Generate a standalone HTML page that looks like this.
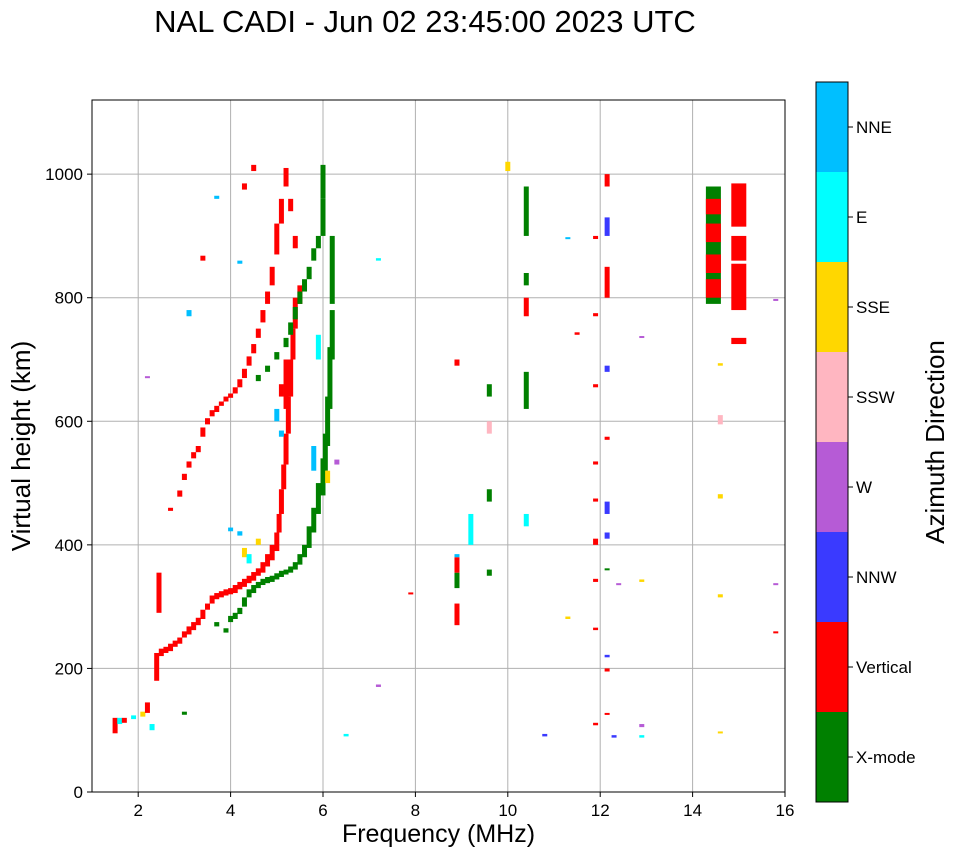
<!DOCTYPE html>
<html><head><meta charset="utf-8"><style>
body{margin:0;background:#fff;font-family:"Liberation Sans",sans-serif}
svg text{font-family:"Liberation Sans",sans-serif}
</style></head><body>
<svg id="chart" width="958" height="857" xmlns="http://www.w3.org/2000/svg">
<text x="425" y="32" font-size="31" text-anchor="middle">NAL CADI - Jun 02 23:45:00 2023 UTC</text>
<g id="grid"></g><g id="marks"></g><g id="axes"></g><g id="cbar"></g>
</svg>
<script>
const xTicks=[2,4,6,8,10,12,14,16];
const yTicks=[0,200,400,600,800,1000];
const dirNames=["X-mode","Vertical","NNW","W","SSW","SSE","E","NNE"];
const dirColors=["#008000","#ff0000","#3a3aff","#b65bd6","#ffb6c1","#ffd700","#00ffff","#00bfff"];
// [freq MHz, low km, high km, direction index]
const lowTrace=[[1.5,95,120,1],[1.6,110,120,6],[1.7,112,120,1],[1.9,118,124,6],[2.1,122,130,5],[2.2,128,145,1],[2.3,100,110,6],[2.4,180,225,1],[2.45,290,355,1],[2.5,220,232,1],[2.6,225,235,1],[2.7,228,240,1],[2.8,235,245,1],[2.9,240,250,1],[3.0,250,260,1],[3.1,255,268,1],[3.2,262,275,1],[3.3,270,282,1],[3.4,280,295,1],[3.5,295,305,1],[3.6,305,318,1],[3.7,312,322,1],[3.8,315,325,1],[3.9,318,328,1],[4.0,320,330,1],[4.1,322,335,1],[4.2,328,340,1],[4.3,332,345,1],[4.4,338,350,1],[4.5,342,356,1],[4.6,350,362,1],[4.7,355,372,1],[4.8,365,385,1],[4.9,375,400,1],[5.0,390,420,1],[5.05,420,450,1],[5.1,450,490,1],[5.15,490,530,1],[5.2,530,580,1],[5.25,580,640,1],[5.3,640,700,1],[5.35,700,750,1],[5.4,750,800,1],[5.5,790,820,1],[4.2,415,422,7],[4.0,422,428,7],[4.3,380,395,5],[4.4,370,385,6],[4.6,400,410,5]];
const xTrace=[[3.7,268,275,0],[3.9,258,265,0],[4.0,275,285,0],[4.1,280,290,0],[4.2,288,298,0],[4.3,300,315,0],[4.4,315,328,0],[4.5,322,335,0],[4.6,330,340,0],[4.7,335,345,0],[4.8,338,348,0],[4.9,340,350,0],[5.0,344,354,0],[5.1,348,358,0],[5.2,352,360,0],[5.3,355,365,0],[5.4,360,372,0],[5.5,368,385,0],[5.6,380,400,0],[5.7,395,430,0],[5.8,420,460,0],[5.9,450,500,0],[6.0,480,540,0],[6.05,520,580,0],[6.1,560,640,0],[6.15,620,720,0],[6.2,700,780,0],[6.2,790,900,0],[6.0,900,960,0],[6.0,960,1015,0],[5.9,700,740,6],[5.8,520,560,7],[6.3,530,538,3],[6.1,500,520,5]];
const hop2Red=[[2.7,455,460,1],[2.9,478,488,1],[3.0,505,515,1],[3.1,525,535,1],[3.2,540,550,1],[3.3,550,560,1],[3.4,575,590,1],[3.5,595,605,1],[3.6,608,618,1],[3.7,615,625,1],[3.8,625,632,1],[3.9,632,640,1],[4.0,638,645,1],[4.1,645,655,1],[4.2,655,668,1],[4.3,670,685,1],[4.4,690,705,1],[4.5,710,725,1],[4.6,735,750,1],[4.7,760,780,1],[4.8,790,810,1],[4.9,820,850,1],[5.0,870,920,1],[5.1,920,960,1],[5.2,980,1010,1],[4.5,1005,1015,1],[4.3,975,985,1],[3.4,860,868,1],[5.3,940,960,1],[5.4,880,900,1],[5.1,640,660,1],[5.2,620,700,1]];
const hop2Green=[[4.6,665,675,0],[4.8,680,690,0],[5.0,700,712,0],[5.2,720,735,0],[5.3,740,760,0],[5.4,765,785,0],[5.5,790,810,0],[5.6,810,830,0],[5.7,830,850,0],[5.8,860,880,0],[5.9,880,900,0],[5.0,600,620,7],[5.1,575,585,7],[3.7,960,965,7],[4.2,855,860,7]];
const farMarks=[[10.4,900,980,0],[10.4,820,840,0],[10.4,770,800,1],[10.4,620,680,0],[10.4,430,450,6],[9.6,640,660,0],[9.6,580,600,4],[9.6,350,360,0],[9.6,470,490,0],[8.9,330,355,0],[8.9,355,380,1],[8.9,380,385,7],[8.9,690,700,1],[8.9,270,305,1],[9.2,400,450,6],[10.0,1005,1020,5],[11.9,895,900,1],[11.9,770,775,1],[11.9,655,660,1],[11.9,530,535,1],[11.9,470,475,1],[11.9,400,410,1],[11.9,340,345,1],[11.9,262,266,1],[11.9,108,112,1],[12.15,980,1000,1],[12.15,900,930,2],[12.15,800,850,1],[12.15,680,690,2],[12.15,570,575,1],[12.15,450,470,2],[12.15,410,420,2],[12.15,360,362,0],[12.15,218,222,2],[12.15,195,200,1],[12.15,125,128,1],[12.4,335,338,3],[12.3,88,92,2],[12.9,735,738,3],[12.9,340,344,5],[12.9,105,110,3],[12.9,88,92,6],[11.3,895,898,7],[11.3,280,284,5],[11.5,740,744,1],[10.8,90,94,2],[14.6,690,694,5],[14.6,595,610,4],[14.6,475,482,5],[14.6,315,320,5],[14.6,95,98,5],[15.8,795,798,3],[15.8,335,338,3],[15.8,257,260,1],[7.2,860,864,6],[7.2,170,174,3],[7.9,320,323,1],[6.5,90,94,6],[3.0,125,130,0],[3.1,770,780,7],[2.2,670,673,3]];
// wide column blocks [freq, low, high, dir]
const columns=[[14.45,790,980,0],[14.45,800,830,1],[14.45,840,870,1],[14.45,890,920,1],[14.45,935,960,1],[15.0,915,985,1],[15.0,860,900,1],[15.0,780,855,1],[15.0,725,735,1]];
const X0=92,X1=785,Y0=792,Y1=100;
const fx=f=>X0+(f-1)/(16-1)*(X1-X0);
const fy=h=>Y0-h/1120*(Y0-Y1);
const NS="http://www.w3.org/2000/svg";
function mk(tag,attrs,parent){const e=document.createElementNS(NS,tag);for(const k in attrs)e.setAttribute(k,attrs[k]);parent.appendChild(e);return e;}
const grid=document.getElementById('grid'),marks=document.getElementById('marks'),axes=document.getElementById('axes'),cbar=document.getElementById('cbar');
xTicks.forEach(t=>{const l=mk('line',{x1:fx(t),x2:fx(t),y1:Y1,y2:Y0,stroke:'#b0b0b0','stroke-width':1},grid);
});
yTicks.forEach(t=>{const l=mk('line',{x1:X0,x2:X1,y1:fy(t),y2:fy(t),stroke:'#b0b0b0','stroke-width':1},grid);
});
function drawSet(arr,w,name){arr.forEach(d=>{const x=fx(d[0])-w/2,yt=fy(d[2]),yb=fy(d[1]);
const r=mk('rect',{x:x,y:yt,width:w,height:Math.max(2,yb-yt),fill:dirColors[d[3]]},marks);
});}
drawSet(lowTrace,5,'echo-low-trace');drawSet(xTrace,5,'echo-xmode-trace');drawSet(hop2Red,5,'echo-second-hop');
drawSet(hop2Green,5,'echo-second-hop-xmode');drawSet(farMarks,5,'echo-scatter');drawSet(columns,15,'echo-column');
mk('rect',{x:X0,y:Y1,width:X1-X0,height:Y0-Y1,fill:'none',stroke:'#000','stroke-width':1},axes);
xTicks.forEach(t=>{mk('line',{x1:fx(t),x2:fx(t),y1:Y0,y2:Y0+5,stroke:'#000'},axes);
const tx=mk('text',{x:fx(t),y:Y0+24,'font-size':17,'text-anchor':'middle'},axes);tx.textContent=t;
});
yTicks.forEach(t=>{mk('line',{x1:X0-5,x2:X0,y1:fy(t),y2:fy(t),stroke:'#000'},axes);
const tx=mk('text',{x:X0-9,y:fy(t)+6,'font-size':17,'text-anchor':'end'},axes);tx.textContent=t;
});
const xt=mk('text',{x:(X0+X1)/2,y:842,'font-size':25,'text-anchor':'middle'},axes);xt.textContent='Frequency (MHz)';

const yt=mk('text',{x:0,y:0,'font-size':26,'text-anchor':'middle',transform:'translate(30,446) rotate(-90)'},axes);yt.textContent='Virtual height (km)';

const CB0=82,CBH=90;
dirNames.forEach((n,i)=>{const y=CB0+(7-i)*CBH;
const r=mk('rect',{x:816,y:y,width:32,height:CBH,fill:dirColors[i]},cbar);

mk('line',{x1:848,x2:853,y1:y+CBH/2,y2:y+CBH/2,stroke:'#000'},cbar);
const t=mk('text',{x:856,y:y+CBH/2+6,'font-size':17},cbar);t.textContent=n;
});
mk('rect',{x:816,y:CB0,width:32,height:CBH*8,fill:'none',stroke:'#000'},cbar);
const ct=mk('text',{x:0,y:0,'font-size':26,'text-anchor':'middle',transform:'translate(944,442) rotate(-90)'},cbar);ct.textContent='Azimuth Direction';

</script>
</body></html>
